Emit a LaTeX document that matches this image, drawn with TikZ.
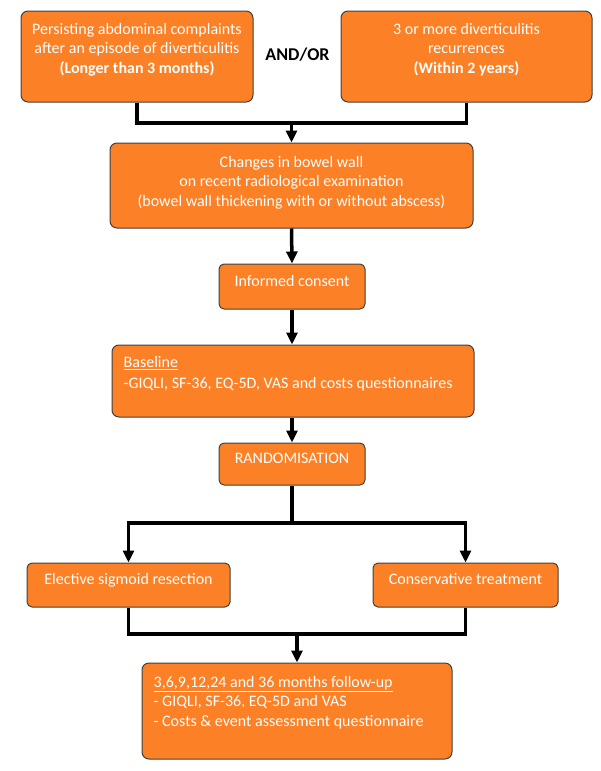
\documentclass[tikz,border=0pt]{standalone}
\usepackage{fontspec}
\setmainfont{Carlito}
\usetikzlibrary{positioning,arrows.meta}
\definecolor{boxOrange}{RGB}{252,128,38}
\definecolor{boxEdge}{RGB}{64,64,64}

\begin{document}
\begin{tikzpicture}[x=1pt,y=-1pt,%%
  boxStyle/.style={draw=boxEdge,line width=1pt,fill=boxOrange,rounded corners=7pt,inner sep=0pt},%%
  textStyle/.style={text=white,inner sep=0pt,font=\fontsize{16}{19.5}\selectfont},%%
  lineStyle/.style={-,line width=3.5pt},%%
  arrowStyle/.style={-{Triangle[length=12pt,width=11pt]},line width=3.5pt}%%
]
%%
%%
\useasboundingbox (0,0) rectangle (600,771);
%%
\pgfmathsetmacro{\joinTop}{123}     %% the bar under the two criteria
\pgfmathsetmacro{\splitY}{523}      %% the bar under randomisation
\pgfmathsetmacro{\joinBottom}{634}  %% the bar under the two arms
%%
%% The two inclusion criteria.
\node[boxStyle,minimum width=232pt,minimum height=91pt] (persist) at (137,56.5) {};
\node[textStyle,align=center,below=12.5pt of persist.north] (persistText)
  {Persisting abdominal complaints\\after an episode of diverticulitis\\\textbf{(Longer than 3 months)}};
\node[boxStyle,minimum width=251pt,minimum height=91pt] (recur) at (466.5,56.5) {};
\node[textStyle,align=center,below=12.5pt of recur.north] (recurText)
  {3 or more diverticulitis\\recurrences\\\textbf{(Within 2 years)}};
\node[inner sep=0pt,font=\fontsize{18}{22}\selectfont\bfseries] (andOr) at (297.5,55) {AND/OR};
%%
%% Radiology, consent and baseline.
\node[boxStyle,minimum width=363pt,minimum height=85pt] (changes) at (291.5,185.5) {};
\node[textStyle,align=center,below=13.5pt of changes.north] (changesText)
  {Changes in bowel wall\\on recent radiological examination\\(bowel wall thickening with or without abscess)};
\node[boxStyle,rounded corners=5pt,minimum width=146pt,minimum height=45pt] (consent) at (292,286.5) {};
\node[textStyle,below=11.5pt of consent.north] (consentText) {Informed consent};
\node[boxStyle,minimum width=362pt,minimum height=72pt] (base) at (293,381) {};
\node[textStyle,align=left,below right=11.5pt and 12pt of base.north west] (baseText)
  {\underline{Baseline}\\[1.5pt]-GIQLI, SF-36, EQ-5D, VAS and costs questionnaires};
\node[boxStyle,rounded corners=5pt,minimum width=146pt,minimum height=42pt] (rand) at (292,464) {};
\node[textStyle,below=10.5pt of rand.north] (randText) {RANDOMISATION};
%%
%% The two arms.
\node[boxStyle,rounded corners=5pt,minimum width=203pt,minimum height=44pt] (elect) at (128.5,585) {};
\node[textStyle,below=10.5pt of elect.north] (electText) {Elective sigmoid resection};
\node[boxStyle,rounded corners=5pt,minimum width=185pt,minimum height=44pt] (cons) at (465.5,585) {};
\node[textStyle,below=10.5pt of cons.north] (consText) {Conservative treatment};
%%
%% Follow-up.
\node[boxStyle,minimum width=310pt,minimum height=96pt] (follow) at (297,711) {};
\node[textStyle,align=left,below right=13.5pt and 12pt of follow.north west] (followText)
  {\underline{3,6,9,12,24 and 36 months follow-up}\\- GIQLI, SF-36, EQ-5D and VAS\\- Costs \& event assessment questionnaire};
%%
%% Connectors.
\coordinate (joinTop) at (291.5,\joinTop);
\draw[lineStyle] (persist.south) |- (joinTop) -| (recur.south);
\draw[arrowStyle] (joinTop) -- (changes.north);
\draw[arrowStyle] (changes.south) -- (consent.north);
\draw[arrowStyle] (consent.south) -- (consent.south |- base.north);
\draw[arrowStyle] (rand.south |- base.south) -- (rand.north);
%%
\coordinate (split) at (292,\splitY);
\draw[lineStyle] (rand.south) -- (split);
\draw[arrowStyle] (split) -| (elect.north);
\draw[arrowStyle] (split) -| (cons.north);
%%
\coordinate (joinBottom) at (297,\joinBottom);
\draw[lineStyle] (elect.south) |- (joinBottom) -| (cons.south);
\draw[arrowStyle] (joinBottom) -- (follow.north);
\end{tikzpicture}
\end{document}
